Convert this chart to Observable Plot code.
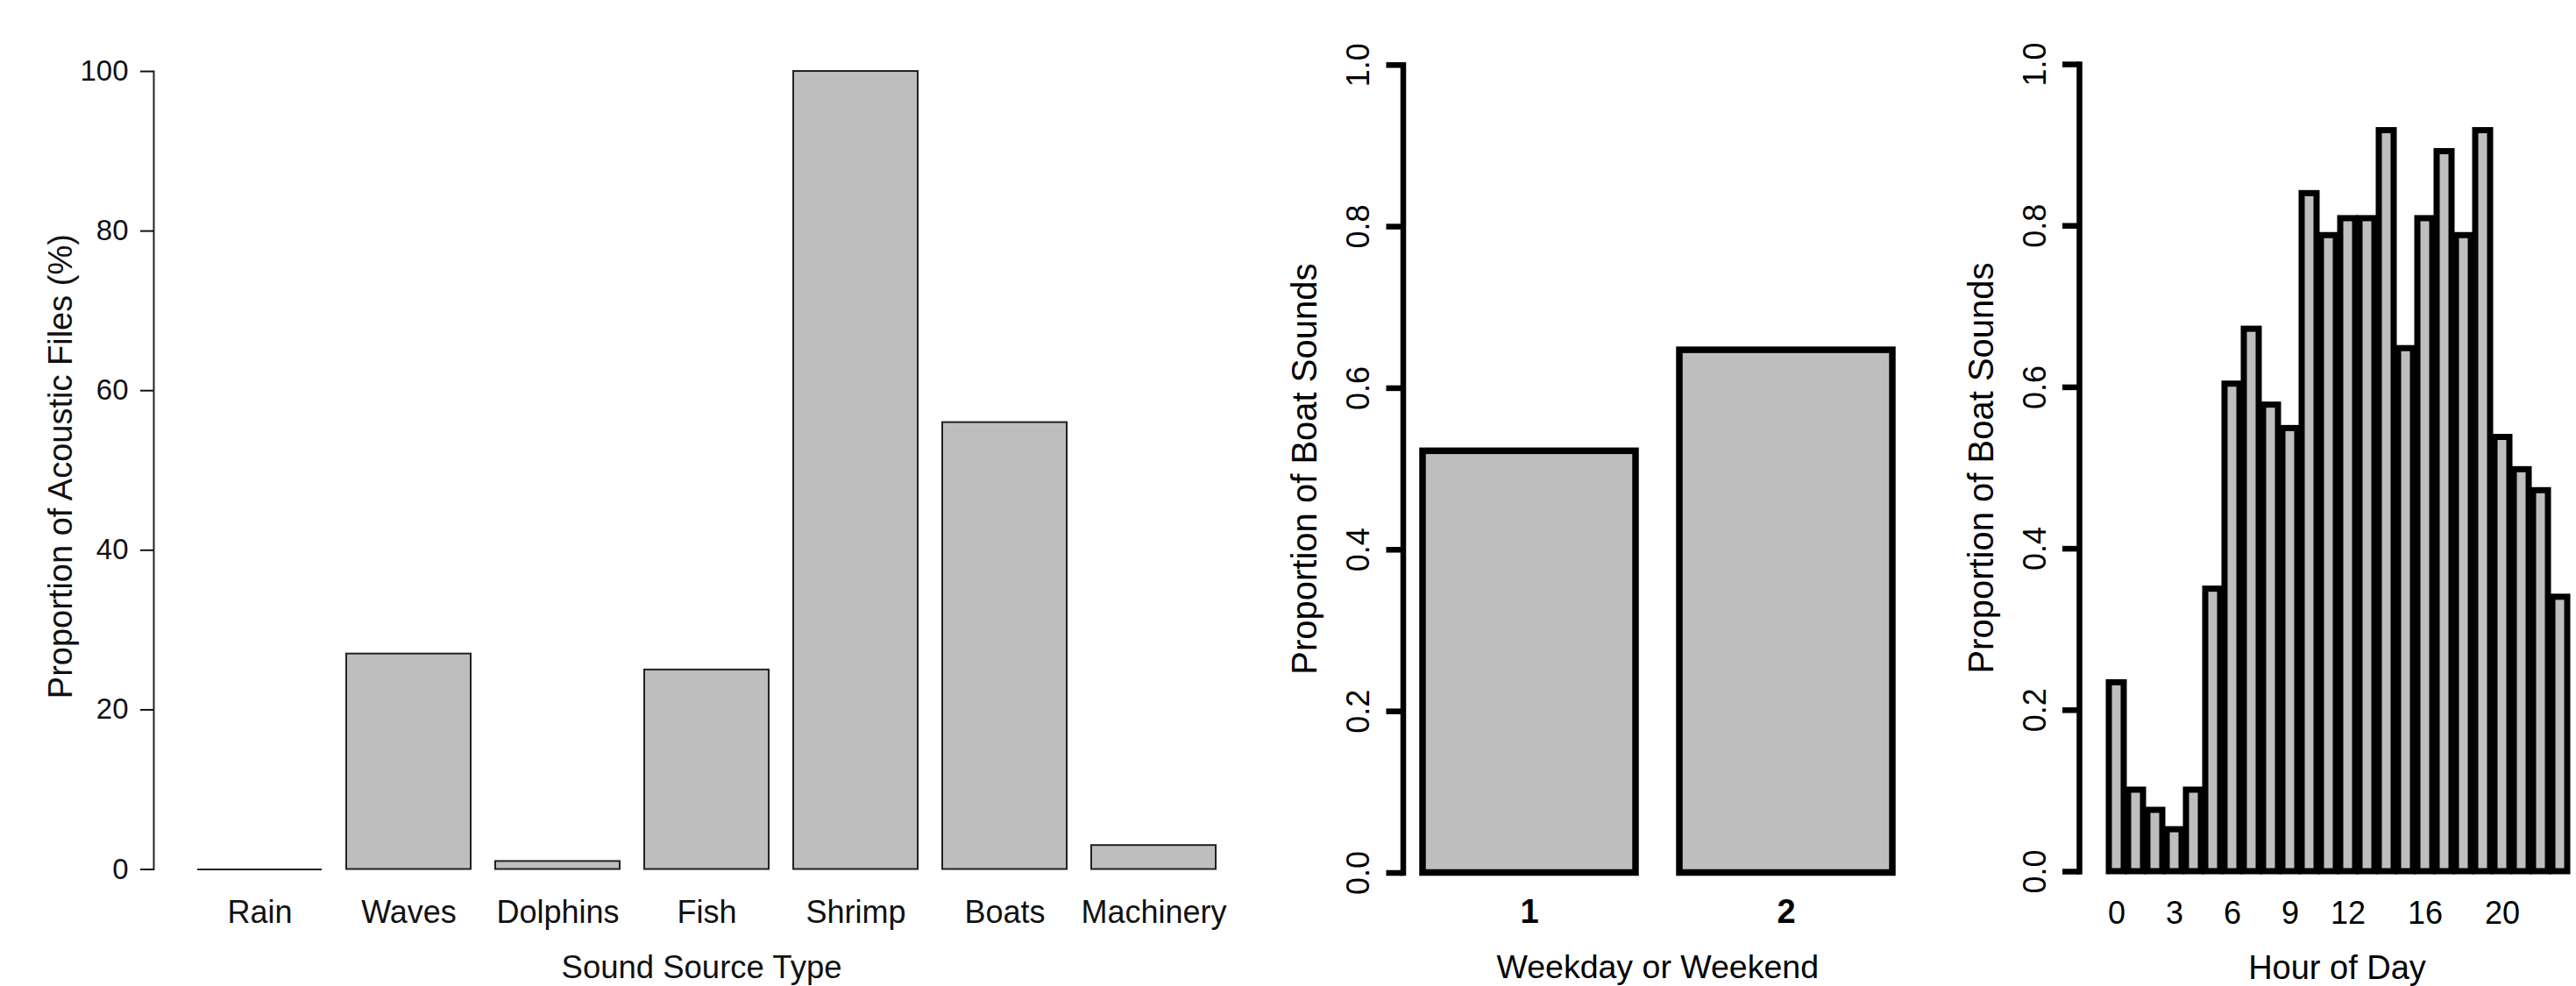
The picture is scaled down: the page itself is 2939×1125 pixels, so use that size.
<!DOCTYPE html>
<html>
<head>
<meta charset="utf-8">
<script src="https://cdn.jsdelivr.net/npm/d3@7"></script>
<script src="https://cdn.jsdelivr.net/npm/@observablehq/plot@0.6"></script>
<style>
  html, body { margin: 0; padding: 0; background: #fff; overflow: hidden; }
  #wrap { position: relative; width: 2939px; height: 1125px; overflow: hidden; background: #fff; }
  #wrap svg { position: absolute; top: 0; }
</style>
</head>
<body>
<div id="wrap"></div>
<script>
// ---- Data ----
const sourceTypes = ["Rain", "Waves", "Dolphins", "Fish", "Shrimp", "Boats", "Machinery"];
const sourcePercent = [0, 27, 1, 25, 100, 56, 3];
const percentTicks = [0, 20, 40, 60, 80, 100];

const dayTypes = ["1", "2"];
const dayProportion = [0.522, 0.647];

const hours = [0, 1, 2, 3, 4, 5, 6, 7, 8, 9, 10, 11, 12, 13, 14, 15, 16, 17, 18, 19, 20, 21, 22, 23];
const hourProportion = [0.234, 0.101, 0.076, 0.052, 0.101, 0.350, 0.604, 0.672, 0.578, 0.549, 0.840, 0.788,
                        0.809, 0.809, 0.918, 0.648, 0.809, 0.892, 0.788, 0.918, 0.538, 0.498, 0.472, 0.340];
const hourTickLabels = [0, 3, 6, 9, 12, 16, 20];
const proportionTicks = [0, 0.2, 0.4, 0.6, 0.8, 1.0];

const font = "'Liberation Sans', Arial, Helvetica, sans-serif";
const fill = "#bebebe";
const wrap = document.getElementById("wrap");

// ---- Panel 1 ----
const data1 = sourceTypes.map((t, i) => ({type: t, value: sourcePercent[i]}));
const p1 = Plot.plot({
  width: 1450, height: 1125,
  marginLeft: 175, marginRight: 13, marginTop: 81, marginBottom: 133.5,
  style: {fontFamily: font, background: "transparent", color: "#111"},
  x: {type: "band", domain: sourceTypes, paddingInner: 1 / 6, paddingOuter: 0.275},
  y: {domain: [0, 100]},
  marks: [
    Plot.barY(data1, {x: "type", y: "value", fill, stroke: "#222", strokeWidth: 2}),
    Plot.tickY(data1.filter(d => d.value === 0), {x: "type", y: "value", stroke: "#222", strokeWidth: 2}),
    Plot.frame({anchor: "left", stroke: "#222", strokeWidth: 2}),
    Plot.axisY(percentTicks, {tickSize: 15, tickPadding: 14, fontSize: 33, strokeWidth: 2, label: null}),
    Plot.axisX({tickSize: 0, tickPadding: 35, fontSize: 36, label: null}),
    Plot.text(["Proportion of Acoustic Files (%)"], {frameAnchor: "left", textAnchor: "middle", dx: -106, dy: -4.6, rotate: -90, fontSize: 38, lineAnchor: "middle"}),
    Plot.text(["Sound Source Type"], {frameAnchor: "bottom", dx: -6, dy: 124, fontSize: 36.5, lineAnchor: "bottom"})
  ]
});
p1.style.left = "0px";
wrap.appendChild(p1);

// ---- Panel 2 ----
const data2 = dayTypes.map((t, i) => ({type: t, value: dayProportion[i]}));
const p2 = Plot.plot({
  width: 750, height: 1125,
  marginLeft: 150.5, marginRight: 19, marginTop: 73.7, marginBottom: 129.5,
  style: {fontFamily: font, background: "transparent", color: "#000"},
  x: {type: "band", domain: dayTypes, paddingInner: 0.17, paddingOuter: 0.073},
  y: {domain: [0, 1]},
  marks: [
    Plot.barY(data2, {x: "type", y: "value", fill, stroke: "#000", strokeWidth: 7.5}),
    Plot.frame({anchor: "left", stroke: "#000", strokeWidth: 6.5}),
    Plot.axisY(proportionTicks, {tickSize: 19, strokeWidth: 6.5, tickFormat: () => "", label: null}),
    Plot.text(proportionTicks, {y: d => d, text: d3.format(".1f"), frameAnchor: "left", textAnchor: "middle", dx: -51, rotate: -90, fontSize: 36, lineAnchor: "middle"}),
    Plot.axisX({tickSize: 0, tickPadding: 30.5, fontSize: 38, fontWeight: "bold", label: null}),
    Plot.text(["Proportion of Boat Sounds"], {frameAnchor: "left", textAnchor: "middle", dx: -111.5, rotate: -90, fontSize: 40, lineAnchor: "middle"}),
    Plot.text(["Weekday or Weekend"], {frameAnchor: "bottom", dy: 120, fontSize: 37.5, lineAnchor: "bottom"})
  ]
});
p2.style.left = "1450px";
wrap.appendChild(p2);

// ---- Panel 3 ----
const data3 = hours.map((h, i) => ({hour: h, value: hourProportion[i]}));
const p3 = Plot.plot({
  width: 739, height: 1125,
  marginLeft: 172, marginRight: 0, marginTop: 73, marginBottom: 131,
  style: {fontFamily: font, background: "transparent", color: "#000"},
  x: {type: "band", domain: hours, paddingInner: 0.25, paddingOuter: 0.669, align: 0.767},
  y: {domain: [0, 1]},
  marks: [
    Plot.barY(data3, {x: "hour", y: "value", fill, stroke: "#000", strokeWidth: 7}),
    Plot.frame({anchor: "left", stroke: "#000", strokeWidth: 6.5}),
    Plot.axisY(proportionTicks, {tickSize: 19, strokeWidth: 6.5, tickFormat: () => "", label: null}),
    Plot.text(proportionTicks, {y: d => d, text: d3.format(".1f"), frameAnchor: "left", textAnchor: "middle", dx: -50, rotate: -90, fontSize: 36, lineAnchor: "middle"}),
    Plot.axisX(hourTickLabels, {tickSize: 0, tickPadding: 34, fontSize: 36, label: null}),
    Plot.text(["Proportion of Boat Sounds"], {frameAnchor: "left", textAnchor: "middle", dx: -111, rotate: -90, fontSize: 40, lineAnchor: "middle"}),
    Plot.text(["Hour of Day"], {frameAnchor: "bottom", dx: 10.5, dy: 122, fontSize: 38, lineAnchor: "bottom"})
  ]
});
p3.style.left = "2200px";
wrap.appendChild(p3);
</script>
</body>
</html>
